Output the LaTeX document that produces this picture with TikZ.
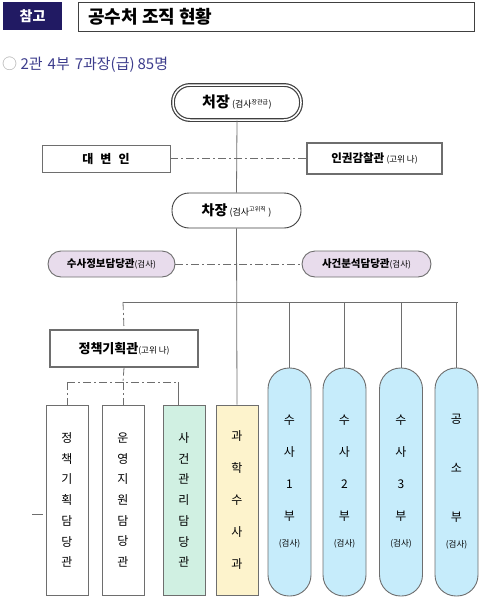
\documentclass[tikz,border=0pt]{standalone}
\usepackage{fontspec}
\setmainfont{Noto Sans CJK KR}
\definecolor{navy}{HTML}{211A63}
\definecolor{lineg}{HTML}{6E6E6E}
\definecolor{lav}{HTML}{E8DCEC}
\definecolor{mint}{HTML}{D0F0E2}
\definecolor{yel}{HTML}{FDF3CC}
\definecolor{lblue}{HTML}{C6ECFB}
\definecolor{subc}{HTML}{3C3C8C}
\newcommand{\fs}[1]{\fontsize{#1}{#1}\selectfont}
\tikzset{
  box/.style={draw=lineg, line width=0.9pt, fill=white, inner sep=0pt},
  conn/.style={draw=lineg, line width=0.8pt},
  dd/.style={conn, dash pattern=on 8pt off 3pt on 2pt off 3pt},
  vbox/.style={box, minimum width=42, minimum height=190, align=center, font=\fs{12}},
  vpill/.style={box, rounded corners=21pt, fill=lblue, minimum width=43, minimum height=228, align=center, font=\fs{12}},
}
\begin{document}
\begin{tikzpicture}[x=1pt, y=-1pt]
\useasboundingbox (0,0) rectangle (500,600);
% header
\node[fill=navy, text=white, font=\bfseries\fs{14}, minimum width=59, minimum height=28, inner sep=0] (ref) at (32.5,16) {참고};
\node[draw=darkgray, line width=1pt, minimum width=396, minimum height=29, inner sep=0] (tbox) at (276,16.5) {};
\node[anchor=west, font=\bfseries\fs{18}, inner sep=0] (title) at (88,16.5) {공수처 조직 현황};
\node[anchor=west, font=\fs{15}, text=subc, inner sep=0] (sub) at (2,65) {{\color{lineg!60}○} 2관\hspace{5pt}4부\hspace{5pt}7과장(급)\hspace{3pt}85명};
% top nodes
\node[box, draw=darkgray, line width=1.2pt, double=white, double distance=1.5pt, rounded corners=17pt, minimum width=128, minimum height=35] (cj) at (237,102.5) {{\bfseries\fs{15}처장} {\fs{9}(검사\textsuperscript{장관급})}};
\node[box, minimum width=128, minimum height=27] (dbi) at (106,158.5) {\bfseries\fs{12}대\hspace{7pt}변\hspace{7pt}인};
\node[box, line width=1.3pt, minimum width=135, minimum height=31] (ig) at (374.5,158.5) {{\bfseries\fs{11.5}인권감찰관} {\fs{8.5}(고위 나)}};
\node[box, draw=darkgray, rounded corners=17pt, minimum width=129, minimum height=35] (ch) at (236.5,210.5) {{\bfseries\fs{14}차장} {\fs{9}(검사\textsuperscript{고위직} )}};
\node[box, fill=lav, rounded corners=13pt, minimum width=127, minimum height=26] (sj) at (111.5,264) {{\bfseries\fs{10.5}수사정보담당관}{\fs{8.5}(검사)}};
\node[box, fill=lav, rounded corners=13pt, minimum width=129, minimum height=26] (sb) at (366.5,264) {{\bfseries\fs{10.5}사건분석담당관}{\fs{8.5}(검사)}};
\node[box, line width=1.3pt, minimum width=148, minimum height=37] (jk) at (124,348.5) {{\bfseries\fs{13}정책기획관}{\fs{8.5}(고위 나)}};
% bottom boxes
\node[vbox] (b1) at (67,500) {정\\[8.7pt]책\\[8.7pt]기\\[8.7pt]획\\[8.7pt]담\\[8.7pt]당\\[8.7pt]관};
\node[vbox] (b2) at (123,500) {운\\[8.7pt]영\\[8.7pt]지\\[8.7pt]원\\[8.7pt]담\\[8.7pt]당\\[8.7pt]관};
\node[vbox, fill=mint] (b3) at (184,500) {사\\[8.7pt]건\\[8.7pt]관\\[8.7pt]리\\[8.7pt]담\\[8.7pt]당\\[8.7pt]관};
\node[vbox, fill=yel] (b4) at (237,500) {과\\[20pt]학\\[20pt]수\\[20pt]사\\[20pt]과};
\node[vpill] (p1) at (289.5,482) {수\\[20pt]사\\[20pt]1\\[20pt]부\\[14pt]{\fs{8.5}(검사)}};
\node[vpill] (p2) at (344.5,482) {수\\[20pt]사\\[20pt]2\\[20pt]부\\[14pt]{\fs{8.5}(검사)}};
\node[vpill] (p3) at (401,482) {수\\[20pt]사\\[20pt]3\\[20pt]부\\[14pt]{\fs{8.5}(검사)}};
\node[vpill] (p4) at (456.5,482) {공\\[37pt]소\\[37pt]부\\[14pt]{\fs{8.5}(검사)}};
% coordinates
\coordinate (hL) at (123,302);
\coordinate (hR) at (458,302);
\coordinate (bM) at (123,382);
\coordinate (bL) at (67,382);
\coordinate (bR) at (178,382);
\coordinate (tk1) at (32,514);
\coordinate (tk2) at (43,514);
% connectors
\draw[conn] (cj.south) -- (ch.north);
\draw[conn] (ch.south) -- (b4.north);
\draw[dd] (dbi.east) -- (ig.west);
\draw[dd] (sj.east) -- (sb.west);
\draw[conn] (hL) -- (hR);
\draw[conn] (p1.north |- hL) -- (p1.north);
\draw[conn] (p2.north |- hL) -- (p2.north);
\draw[conn] (p3.north |- hL) -- (p3.north);
\draw[conn] (p4.north |- hL) -- (p4.north);
\draw[dd] (hL) -- (jk.north);
\draw[dd] (jk.south) -- (bM);
\draw[dd] (bL) -- (bR);
\draw[dd] (bL) -- (b1.north);
\draw[dd] (bM) -- (b2.north);
\draw[conn] (bR) -- (bR |- b3.north);
\draw[conn] (tk1) -- (tk2);
\end{tikzpicture}
\end{document}
